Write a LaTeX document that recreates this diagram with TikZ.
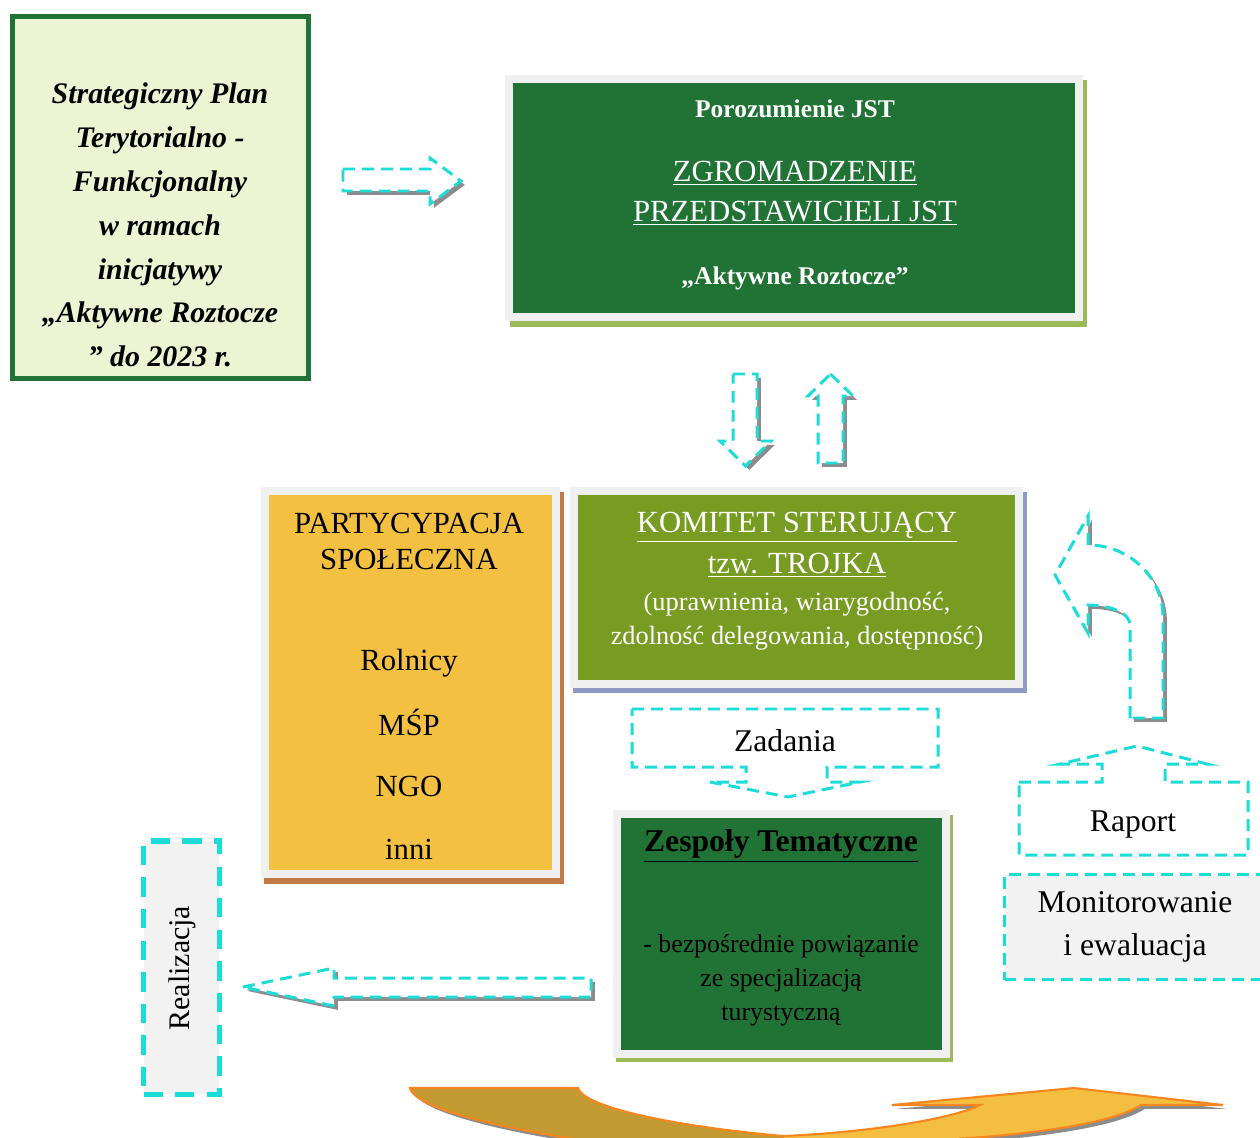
\documentclass[tikz,border=0pt]{standalone}
\usepackage{fontspec}
\setmainfont{Liberation Serif}
\usepackage{xcolor}
\definecolor{darkgreen}{HTML}{217335}
\definecolor{palegreen}{HTML}{EBF5D3}
\definecolor{komitet}{HTML}{789B22}
\definecolor{amber}{HTML}{F4C042}
\definecolor{aqua}{HTML}{1CDCD8}
\definecolor{framegray}{HTML}{F0F0F0}
\definecolor{boxgray}{HTML}{F2F2F2}
\definecolor{shade}{HTML}{8C8C8C}
\definecolor{stripgreen}{HTML}{9BBB59}
\definecolor{stripbrown}{HTML}{C07A45}
\definecolor{stripblue}{HTML}{8E9AC6}
\definecolor{ribbonedge}{HTML}{F7861E}
\definecolor{ribbondark}{HTML}{C49A33}
\definecolor{ribbonlight}{HTML}{F4BE40}

\begin{document}
\begin{tikzpicture}[x=0.02cm,y=-0.02cm,
  boxframe/.style={draw=framegray,line width=4.5pt,inner sep=0pt},
  txt/.style={align=center,inner sep=0pt},
  dashcyan/.style={draw=aqua,line width=1.7pt,dash pattern=on 6.8pt off 4pt},
  shadowed/.style={preaction={fill=shade,draw=none,transform canvas={xshift=2.2pt,yshift=-2.2pt}}}]
  \useasboundingbox (0,0) rectangle (1260,1138);

  % Plan (top left)
  \node[draw=darkgreen,line width=2.8pt,fill=palegreen,minimum width=5.92cm,minimum height=7.24cm,inner sep=0pt] (plan) at (160.5,197.5) {};
  \node[txt,font={\fontsize{17}{25}\selectfont\bfseries\itshape}] (planText) at (160,225)
    {Strategiczny Plan\\Terytorialno -\\Funkcjonalny\\w ramach\\inicjatywy\\„Aktywne Roztocze\\” do 2023 r.};

  % arrow to the assembly
  \draw[dashcyan,fill=white,shadowed] (343,169) -- (430,169) -- (430,158) -- (461,181) -- (430,204) -- (430,191) -- (343,191) -- cycle;

  % Zgromadzenie
  \fill[stripgreen] (510,80) rectangle (1087,327);
  \node[boxframe,fill=darkgreen,minimum width=11.4cm,minimum height=4.76cm] (zgrom) at (794,198) {};
  \node[txt,text=white,font={\fontsize{14.5}{17}\selectfont\bfseries}] (porozum) at (795,109) {Porozumienie JST};
  \node[txt,text=white,font={\fontsize{17.5}{22.7}\selectfont}] (zgromText) at (795,193)
    {\underline{ZGROMADZENIE}\\\underline{PRZEDSTAWICIELI JST}};
  \node[txt,text=white,font={\fontsize{14.5}{17}\selectfont\bfseries}] (aktywne) at (795,278) {„Aktywne Roztocze”};

  % down / up
  \draw[dashcyan,fill=white,shadowed] (733,374) -- (757,374) -- (757,441) -- (771,441) -- (745.5,466) -- (720,441) -- (733,441) -- cycle;
  \draw[dashcyan,fill=white,shadowed] (830.5,374) -- (853,396) -- (843,396) -- (843,463) -- (818,463) -- (818,396) -- (808,396) -- cycle;

  % Partycypacja
  \fill[stripbrown] (264,492) rectangle (564,884);
  \node[boxframe,fill=amber,minimum width=5.82cm,minimum height=7.66cm] (party) at (410.5,682.5) {};
  \node[txt,font={\fontsize{17.5}{21}\selectfont}] (partyHead) at (409,541.5) {PARTYCYPACJA\\SPOŁECZNA};
  \node[txt,font={\fontsize{17.5}{21}\selectfont}] (rolnicy) at (409,663) {Rolnicy};
  \node[txt,font={\fontsize{17.5}{21}\selectfont}] (msp) at (409,722) {MŚP};
  \node[txt,font={\fontsize{17.5}{21}\selectfont}] (ngo) at (409,786) {NGO};
  \node[txt,font={\fontsize{17.5}{21}\selectfont}] (inni) at (409,849) {inni};

  % Komitet
  \fill[stripblue] (573,492) rectangle (1027,693);
  \node[boxframe,fill=komitet,minimum width=8.9cm,minimum height=3.86cm] (kom) at (796.5,587.5) {};
  \node[txt,text=white,font={\fontsize{17.5}{23.2}\selectfont}] (komHead) at (797,545)
    {\underline{KOMITET STERUJĄCY}\\\underline{tzw. TROJKA}};
  \node[txt,text=white,font={\fontsize{15}{19.3}\selectfont}] (komText) at (797,621)
    {(uprawnienia, wiarygodność,\\zdolność delegowania, dostępność)};

  % curved arrow (Raport)
  \draw[dashcyan,fill=white,shadowed] (1130,718) -- (1130,625) .. controls (1130,612) and (1108,605) .. (1088,605)
    -- (1088,633) -- (1055,575) -- (1088,516) -- (1088,545) .. controls (1130,545) and (1163,578) .. (1163,617)
    -- (1163,718) -- cycle;

  % Zadania
  \draw[dashcyan] (632,709) -- (938,709) -- (938,767) -- (827,767) -- (827,782) -- (860,782) -- (788,797)
    -- (710,782) -- (746,782) -- (746,767) -- (632,767) -- cycle;
  \node[txt,font={\fontsize{18}{22}\selectfont}] (zadania) at (785,741) {Zadania};

  % Raport
  \draw[dashcyan] (1019,782) -- (1102,782) -- (1102,764) -- (1060,764) -- (1137,746) -- (1207,764) -- (1165,764)
    -- (1165,782) -- (1248,782) -- (1248,855) -- (1019,855) -- cycle;
  \node[txt,font={\fontsize{18}{22}\selectfont}] (raport) at (1133,825) {Raport};

  % Monitorowanie
  \node[dashcyan,fill=boxgray,minimum width=5.19cm,minimum height=2.1cm,inner sep=0pt] (monit) at (1134.25,927) {};
  \node[txt,font={\fontsize{18}{24.4}\selectfont}] (monitText) at (1135,927) {Monitorowanie\\i ewaluacja};

  % Zespoly
  \fill[stripgreen] (616,815) rectangle (953,1062);
  \node[boxframe,fill=darkgreen,minimum width=6.58cm,minimum height=4.8cm] (zesp) at (781.5,934) {};
  \node[txt,font={\fontsize{18}{22}\selectfont\bfseries}] (zespHead) at (781,846) {\underline{Zespoły Tematyczne}};
  \node[txt,font={\fontsize{14.7}{19.3}\selectfont}] (zespText) at (781,980)
    {- bezpośrednie powiązanie\\ze specjalizacją\\turystyczną};

  % arrow to Realizacja
  \draw[dashcyan,fill=white,shadowed] (243,987) -- (334,968) -- (334,978) -- (591,978) -- (591,997) -- (334,997) -- (334,1006) -- cycle;

  % Realizacja
  \node[draw=aqua,line width=3.4pt,dash pattern=on 11pt off 7pt,fill=boxgray,minimum width=1.52cm,minimum height=5.08cm,inner sep=0pt] (realiz) at (181.5,967.5) {};
  \node[txt,rotate=90,font={\fontsize{17}{20}\selectfont}] (realizText) at (182,968) {Realizacja};

  % ribbon at the bottom
  \draw[ribbonedge,line width=1.2pt,fill=ribbondark,shadowed] (410,1088) -- (578,1088) .. controls (582,1105) and (660,1125) .. (783,1136)
    -- (783,1150) -- (660,1150) .. controls (520,1135) and (415,1110) .. (410,1088) -- cycle;
  \draw[ribbonedge,line width=1.2pt,fill=ribbonlight,shadowed] (783,1136) .. controls (860,1133) and (950,1120) .. (980,1105)
    -- (892,1105) -- (1074,1088) -- (1223,1105) -- (1141,1105) .. controls (1110,1125) and (1020,1137) .. (900,1142)
    -- (783,1150) -- cycle;
\end{tikzpicture}
\end{document}
